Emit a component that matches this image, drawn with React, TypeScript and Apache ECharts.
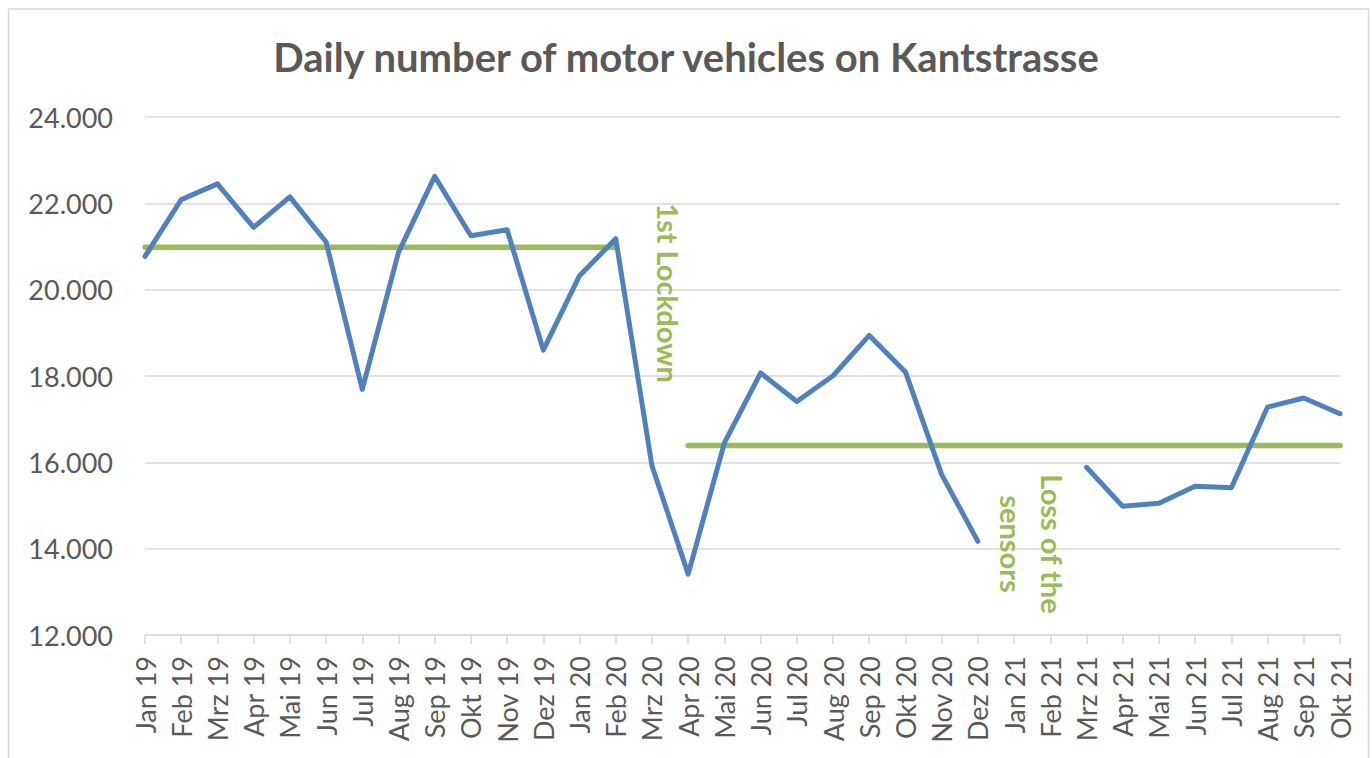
import React, { useEffect, useRef } from "react";
import * as echarts from "echarts";

const categories = [
  "Jan 19", "Feb 19", "Mrz 19", "Apr 19", "Mai 19", "Jun 19", "Jul 19", "Aug 19", "Sep 19", "Okt 19", "Nov 19", "Dez 19",
  "Jan 20", "Feb 20", "Mrz 20", "Apr 20", "Mai 20", "Jun 20", "Jul 20", "Aug 20", "Sep 20", "Okt 20", "Nov 20", "Dez 20",
  "Jan 21", "Feb 21", "Mrz 21", "Apr 21", "Mai 21", "Jun 21", "Jul 21", "Aug 21", "Sep 21", "Okt 21",
];

const vehicles: (number | null)[] = [
  20770, 22085, 22450, 21445, 22150, 21105, 17690, 20865, 22625, 21250, 21390, 18600,
  20325, 21180, 15920, 13410, 16450, 18070, 17410, 18005, 18940, 18095, 15715, 14170,
  null, null, 15885, 14980, 15050, 15445, 15410, 17280, 17490, 17125,
];

const avgBefore: (number | null)[] = [
  20980, 20980, 20980, 20980, 20980, 20980, 20980, 20980, 20980, 20980, 20980, 20980,
  20980, 20980, null, null, null, null, null, null, null, null, null, null,
  null, null, null, null, null, null, null, null, null, null,
];

const avgAfter: (number | null)[] = [
  null, null, null, null, null, null, null, null, null, null, null, null,
  null, null, null, 16390, 16390, 16390, 16390, 16390, 16390, 16390, 16390, 16390,
  16390, 16390, 16390, 16390, 16390, 16390, 16390, 16390, 16390, 16390,
];

const yTicks = { min: 12000, max: 24000, interval: 2000 };

const titleText = "Daily number of motor vehicles on Kantstrasse";
const lockdownText = "1st Lockdown";
const sensorText = "Loss of the\nsensors";

const FONT = "Lato, 'Open Sans', sans-serif";
const GREY = "#595959";
const GRID_GREY = "#d9d9d9";
const BLUE = "#4f81bd";
const GREEN = "#9bbb59";

export default function App() {
  const ref = useRef<HTMLDivElement>(null);
  useEffect(() => {
    if (!ref.current) return;
    const chart = echarts.init(ref.current, undefined, { renderer: "svg" });
    chart.setOption({
      animation: false,
      backgroundColor: "#ffffff",
      title: {
        text: titleText,
        left: "center",
        top: 32,
        textStyle: { fontFamily: FONT, fontSize: 40, fontWeight: "bold", color: GREY },
      },
      grid: { left: 145, right: 32, top: 117, bottom: 123, containLabel: false },
      xAxis: {
        type: "category",
        data: categories,
        boundaryGap: false,
        axisLine: { lineStyle: { color: GRID_GREY, width: 1.5 } },
        axisTick: { show: true, length: 9, lineStyle: { color: GRID_GREY, width: 1.5 } },
        axisLabel: {
          interval: 0,
          rotate: 90,
          margin: 21,
          fontFamily: FONT,
          fontSize: 27,
          color: GREY,
        },
        splitLine: { show: false },
      },
      yAxis: {
        type: "value",
        min: yTicks.min,
        max: yTicks.max,
        interval: yTicks.interval,
        axisLine: { show: false },
        axisTick: { show: false },
        axisLabel: {
          margin: 32,
          fontFamily: FONT,
          fontSize: 27,
          color: GREY,
          formatter: (v: number) => (v / 1000).toFixed(3),
        },
        splitLine: { lineStyle: { color: GRID_GREY, width: 1.5 } },
      },
      series: [
        {
          type: "line",
          data: avgBefore,
          symbol: "none",
          connectNulls: false,
          lineStyle: { color: GREEN, width: 5.5, cap: "round" },
          z: 3,
        },
        {
          type: "line",
          data: avgAfter,
          symbol: "none",
          connectNulls: false,
          lineStyle: { color: GREEN, width: 5.5, cap: "round" },
          z: 3,
        },
        {
          type: "line",
          data: vehicles,
          symbol: "none",
          connectNulls: false,
          lineStyle: { color: BLUE, width: 5, cap: "round", join: "round" },
          z: 4,
        },
      ],
      graphic: [
        {
          type: "rect",
          shape: { x: 8.5, y: 9, width: 1360, height: 770 },
          style: { fill: "none", stroke: GRID_GREY, lineWidth: 1.5 },
          silent: true,
          z: -1,
        },
        {
          type: "text",
          x: 668,
          y: 293,
          rotation: -Math.PI / 2,
          style: {
            text: lockdownText,
            fontFamily: FONT,
            fontSize: 29,
            fontWeight: "bold",
            fill: GREEN,
            align: "center",
            verticalAlign: "middle",
          },
          z: 10,
        },
        {
          type: "text",
          x: 1032,
          y: 544,
          rotation: -Math.PI / 2,
          style: {
            text: sensorText,
            fontFamily: FONT,
            fontSize: 29,
            fontWeight: "bold",
            lineHeight: 41,
            fill: GREEN,
            align: "center",
            verticalAlign: "middle",
          },
          z: 10,
        },
      ],
    });
    return () => chart.dispose();
  }, []);
  return (
    <div
      ref={ref}
      style={{ position: "absolute", left: 0, top: 0, width: 1372, height: 758 }}
    />
  );
}
